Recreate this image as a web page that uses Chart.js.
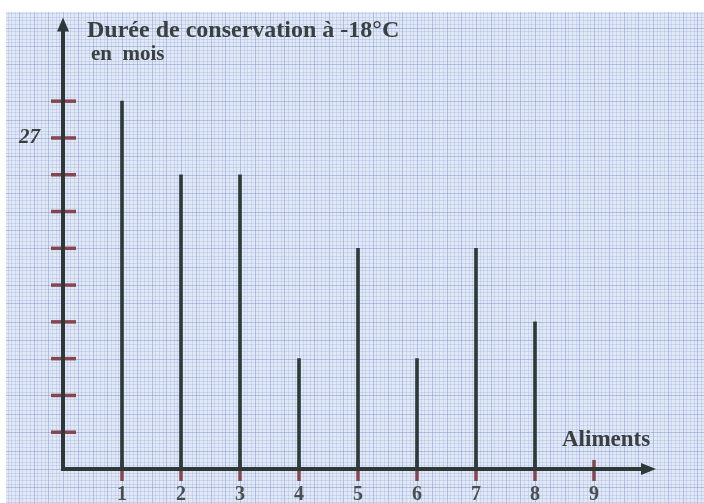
<!DOCTYPE html>
<html><head><meta charset="utf-8">
<script src="https://cdn.jsdelivr.net/npm/chart.js@4"></script>
<style>html,body{margin:0;padding:0;background:#fff;}#wrap{width:704px;height:503px;}</style>
</head><body><div id="wrap"><canvas id="c" width="704" height="503"></canvas></div>
<script>
const categories = [1, 2, 3, 4, 5, 6, 7, 8];
const dureeMois = [30, 24, 24, 9, 18, 9, 18, 12];
const xTickLabels = ['1','2','3','4','5','6','7','8','9'];
const yLabeledTick = 27;
const titleLine1 = 'Durée de conservation à -18°C';
const titleLine2 = 'en  mois';
const xAxisName = 'Aliments';

const tickColor = '#864650';
const axisColor = '#2f3838';

const paperPlugin = {
  id: 'paper',
  beforeDraw(chart) {
    const ctx = chart.ctx, xs = chart.scales.x, ys = chart.scales.y;
    ctx.save();
    ctx.fillStyle = '#ffffff';
    ctx.fillRect(0, 0, chart.width, chart.height);
    const x0 = 6, y0 = 12;
    ctx.fillStyle = '#e2e9f6';
    ctx.fillRect(x0, y0, chart.width - x0, chart.height - y0);
    const pxX = xs.getPixelForValue(1) - xs.getPixelForValue(0);
    const pxY = ys.getPixelForValue(0) - ys.getPixelForValue(3);
    const sx = pxX / 16, sy = pxY / 10;
    const ox = xs.getPixelForValue(0), oy = ys.getPixelForValue(0);
    ctx.lineWidth = 1;
    for (let i = -40; i < 200; i++) {
      const x = Math.round(ox + i * sx) + 0.5;
      if (x < x0 || x > chart.width) continue;
      ctx.strokeStyle = (i % 4 === 0) ? 'rgba(130,150,205,0.5)' : 'rgba(160,178,220,0.35)';
      ctx.beginPath(); ctx.moveTo(x, y0); ctx.lineTo(x, chart.height); ctx.stroke();
    }
    for (let j = -40; j < 200; j++) {
      const y = Math.round(oy - j * sy) + 0.5;
      if (y < y0 || y > chart.height) continue;
      ctx.strokeStyle = (j % 5 === 0) ? 'rgba(130,150,205,0.5)' : 'rgba(160,178,220,0.35)';
      ctx.beginPath(); ctx.moveTo(x0, y); ctx.lineTo(chart.width, y); ctx.stroke();
    }
    ctx.restore();
  }
};

const axesPlugin = {
  id: 'axesDeco',
  beforeDatasetsDraw(chart) {
    const ctx = chart.ctx, xs = chart.scales.x, ys = chart.scales.y;
    const ox = xs.getPixelForValue(0), oy = ys.getPixelForValue(0);
    ctx.save();
    ctx.strokeStyle = tickColor; ctx.lineWidth = 3.5;
    ys.ticks.forEach(t => {
      if (t.value <= 0 || t.value > 30) return;
      const y = ys.getPixelForValue(t.value);
      ctx.beginPath(); ctx.moveTo(ox - 12, y); ctx.lineTo(ox + 13, y); ctx.stroke();
    });
    xs.ticks.forEach(t => {
      if (t.value < 1 || t.value > 9) return;
      const x = xs.getPixelForValue(t.value);
      ctx.beginPath(); ctx.moveTo(x, oy - 9); ctx.lineTo(x, oy + 12); ctx.stroke();
    });
    ctx.strokeStyle = axisColor; ctx.fillStyle = axisColor; ctx.lineWidth = 4;
    const yTop = chart.chartArea.top - 6;
    ctx.beginPath(); ctx.moveTo(ox, oy + 2); ctx.lineTo(ox, yTop + 8); ctx.stroke();
    ctx.beginPath(); ctx.moveTo(ox, yTop - 4); ctx.lineTo(ox - 6, yTop + 10); ctx.lineTo(ox + 6, yTop + 10); ctx.closePath(); ctx.fill();
    const xEnd = chart.chartArea.right;
    ctx.beginPath(); ctx.moveTo(ox - 2, oy); ctx.lineTo(xEnd - 8, oy); ctx.stroke();
    ctx.beginPath(); ctx.moveTo(xEnd + 3, oy); ctx.lineTo(xEnd - 12, oy - 6); ctx.lineTo(xEnd - 12, oy + 6); ctx.closePath(); ctx.fill();
    ctx.fillStyle = '#3a4040';
    ctx.textBaseline = 'alphabetic'; ctx.textAlign = 'left';
    ctx.font = 'bold 24px "Liberation Serif", "DejaVu Serif", serif';
    ctx.fillText(titleLine1, 87, 37);
    ctx.font = 'bold 21px "Liberation Serif", "DejaVu Serif", serif';
    ctx.fillText(titleLine2, 91, 60);
    ctx.font = 'bold 23px "Liberation Serif", "DejaVu Serif", serif';
    ctx.fillText(xAxisName, 562, 446);
    ctx.restore();
  }
};

new Chart(document.getElementById('c'), {
  type: 'bar',
  data: {
    datasets: [{
      data: categories.map((c, i) => ({ x: c, y: dureeMois[i] })),
      backgroundColor: '#2e3a3a',
      borderWidth: 0,
      barThickness: 3
    }]
  },
  options: {
    responsive: false,
    animation: false,
    events: [],
    layout: { padding: { top: 24, right: 51, left: 0, bottom: 0 } },
    plugins: { legend: { display: false }, tooltip: { enabled: false } },
    scales: {
      x: {
        type: 'linear', min: 0, max: 10, offset: false,
        grid: { display: false, offset: false }, border: { display: false },
        afterFit(s) { s.height = 34; },
        afterBuildTicks(s) { s.ticks = Array.from({length: 11}, (_, i) => ({ value: i })); },
        ticks: {
          autoSkip: false, maxRotation: 0, padding: 6,
          color: '#4a4e4e',
          font: { family: '"Liberation Serif", serif', size: 20, weight: 'bold' },
          callback: v => (v >= 1 && v <= 9) ? xTickLabels[v - 1] : ''
        }
      },
      y: {
        min: 0, max: 36,
        grid: { display: false }, border: { display: false },
        afterFit(s) { s.width = 63; },
        afterBuildTicks(s) { s.ticks = Array.from({length: 13}, (_, i) => ({ value: i * 3 })); },
        ticks: {
          autoSkip: false, padding: 15,
          color: '#3a3e3e',
          font: { family: '"Liberation Serif", serif', size: 21, weight: 'bold', style: 'italic' },
          callback: v => v === yLabeledTick ? String(yLabeledTick) : ''
        }
      }
    }
  },
  plugins: [paperPlugin, axesPlugin]
});
</script></body></html>
